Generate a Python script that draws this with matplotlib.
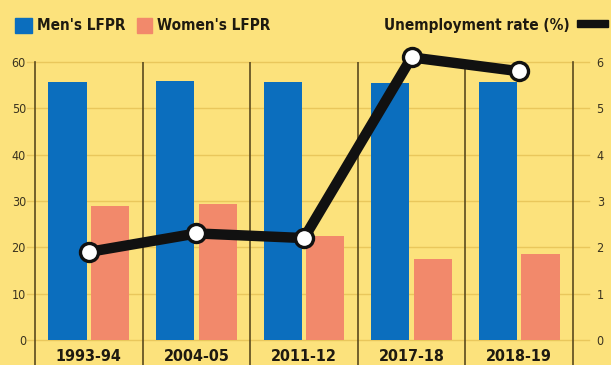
import numpy as np
import matplotlib.pyplot as plt

years = ['1993-94', '2004-05', '2011-12', '2017-18', '2018-19']
men_lfpr = [55.6, 56.0, 55.6, 55.5, 55.6]
women_lfpr = [29.0, 29.4, 22.5, 17.5, 18.6]
unemp_rate = [1.9, 2.3, 2.2, 6.1, 5.8]

bg = '#FCE27C'
blue = '#0B6EBE'
salmon = '#F2896B'
grid_c = '#E9C75C'
spine_c = '#5A4A1E'
txt_c = '#3A3320'

plt.rcParams['font.family'] = ['DejaVu Sans']
plt.rcParams['font.stretch'] = 'condensed'

fig = plt.figure(figsize=(6.11, 3.65), dpi=100, facecolor=bg)
ax = fig.add_axes([35/611, 0.0, (573-35)/611, (365-62)/365])
ax.set_facecolor(bg)

x = np.arange(len(years))
w = 0.355
ax.bar(x - w/2 - 0.02, men_lfpr, w, color=blue, zorder=3)
ax.bar(x + w/2 + 0.02, women_lfpr, w, color=salmon, zorder=3)

ax.set_xlim(-0.5, len(years) - 0.5)
ax.set_ylim(-5.4, 60)
ax.set_yticks(range(0, 61, 10))
for v in range(0, 61, 10):
    ax.axhline(v, xmin=-0.015, xmax=1.03, color=grid_c, lw=1, zorder=1, clip_on=False)
for b in x[:-1] + 0.5:
    ax.axvline(b, color=spine_c, lw=1.2, zorder=2)
ax.tick_params(axis='y', length=0, labelsize=9, labelcolor=txt_c, pad=6.5)
ax.set_xticks([])
for i, yr in enumerate(years):
    ax.text(i, -3.5, yr, ha='center', va='center', fontsize=11.5, fontweight='bold',
            color='#1E1A10', zorder=4)
for s in ['top', 'bottom']:
    ax.spines[s].set_visible(False)
ax.spines['left'].set_color(spine_c)
ax.spines['right'].set_color(spine_c)
ax.spines['left'].set_linewidth(1.2)
ax.spines['right'].set_linewidth(1.2)

ax2 = ax.twinx()
ax2.set_ylim(-0.54, 6)
ax2.set_yticks(range(0, 7))
ax2.tick_params(axis='y', length=0, labelsize=9, labelcolor=txt_c, pad=17)
for s in ax2.spines.values():
    s.set_visible(False)
ax2.plot(x, unemp_rate, color='#111111', lw=7.5, marker='o', markersize=13,
         markerfacecolor='white', markeredgecolor='#111111', markeredgewidth=2.4,
         zorder=5, clip_on=False)

# legend row
ly = 1 - 25.5/365
fig.patches.append(plt.Rectangle((15/611, 1 - 33/365), 17/611, 15/365,
                                 transform=fig.transFigure, color=blue))
fig.text(37/611, ly, "Men's LFPR", fontsize=11, fontweight='bold',
         color='#1E1A10', va='center')
fig.patches.append(plt.Rectangle((137/611, 1 - 33/365), 15/611, 15/365,
                                 transform=fig.transFigure, color=salmon))
fig.text(157/611, ly, "Women's LFPR", fontsize=11, fontweight='bold',
         color='#1E1A10', va='center')
fig.text(570/611, ly, "Unemployment rate (%)", fontsize=11, fontweight='bold',
         color='#1E1A10', va='center', ha='right')
fig.patches.append(plt.Rectangle((577/611, 1 - 27/365), 31/611, 7/365,
                                 transform=fig.transFigure, color='#111111'))

fig.savefig('out.png', dpi=100, facecolor=bg)
